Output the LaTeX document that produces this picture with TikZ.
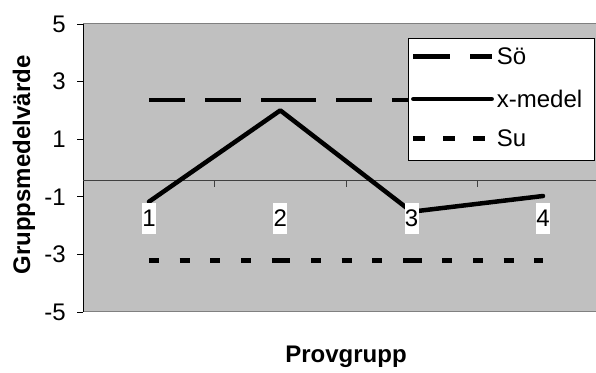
\documentclass[tikz,border=0pt]{standalone}
\usepackage{fontspec}
\setmainfont{Liberation Sans}
\definecolor{plotgray}{HTML}{C0C0C0}
\definecolor{bordergray}{HTML}{808080}
\tikzset{
  txt/.style={font=\fontsize{24}{24}\selectfont, inner sep=0pt},
  ttl/.style={font=\fontsize{24}{24}\selectfont\bfseries, inner sep=0pt},
  ticklbl/.style={txt, anchor=east},
  datalbl/.style={txt, fill=white, minimum width=14pt, minimum height=31pt},
  legtxt/.style={txt, anchor=west},
  soline/.style={line width=4.5pt, line cap=butt, dash pattern=on 36pt off 20pt},
  suline/.style={line width=4.5pt, line cap=butt, dash pattern=on 10pt off 20.7pt},
  medline/.style={line width=4.5pt, line cap=round, line join=round},
}
\begin{document}
\begin{tikzpicture}[x=1pt,y=-1pt]
\useasboundingbox (0,0) rectangle (596,372);
% plot area
\fill[plotgray] (83.3,23.5) rectangle (596,311.7);
\draw[bordergray, line width=1.5pt] (83.3,23.5) -- (596,23.5);
\draw[bordergray, line width=1.5pt] (83.3,311.7) -- (596,311.7);
% y axis
\draw[black, line width=1pt] (83.3,23.5) -- (83.3,311.7);
\foreach \v [count=\i from 0] in {5,3,1,-1,-3,-5} {
  \draw[black, line width=1pt] (77,24+\i*57.6) -- (83.3,24+\i*57.6);
  \node[ticklbl] (tick\i) at (66,24+\i*57.6) {\v};
}
% x axis
\draw[black!75, line width=1pt] (83.3,180.3) -- (596,180.3);
\foreach \x in {214.7,346,477.3} {
  \draw[black!75, line width=1pt] (\x,180.3) -- (\x,186.5);
}
% data coordinates
\coordinate (s1) at (149,100);
\coordinate (s2) at (280.3,100);
\coordinate (s3) at (411.6,100);
\coordinate (s4) at (543,100);
\coordinate (u1) at (149,260.7);
\coordinate (u2) at (280.3,260.7);
\coordinate (u3) at (411.6,260.7);
\coordinate (u4) at (543,260.7);
\coordinate (m1) at (149,201.7);
\coordinate (m2) at (280.3,110.4);
\coordinate (m3) at (411.6,211.7);
\coordinate (m4) at (543,196);
% series
\draw[soline] (s1) -- (s2);
\draw[soline] (s2) -- (s3);
\draw[soline] (s3) -- (s4);
\draw[suline] (u1) -- (u2);
\draw[suline] (u2) -- (u3);
\draw[suline] (u3) -- (u4);
\draw[medline] (m1) -- (m2) -- (m3) -- (m4);
% data labels
\node[datalbl] (d1) at (149,218.3) {1};
\node[datalbl] (d2) at (280.3,218.3) {2};
\node[datalbl] (d3) at (411.6,218.3) {3};
\node[datalbl] (d4) at (543,218.3) {4};
% legend
\node[draw=black, line width=0.8pt, fill=white, minimum width=186.8pt, minimum height=121.7pt, inner sep=0pt, anchor=north west] (legend) at (407.5,38.3) {};
\coordinate (ls0) at (413.3,56.7);
\coordinate (ls1) at (491.7,56.7);
\coordinate (lm0) at (413.3,99);
\coordinate (lm1) at (491.7,99);
\coordinate (lu0) at (413.3,138.3);
\coordinate (lu1) at (491.7,138.3);
\draw[line width=4.5pt, line cap=butt, dash pattern=on 37pt off 20pt] (ls0) -- (ls1);
\draw[line width=4.5pt, line cap=round] (lm0) -- (lm1);
\draw[line width=4.5pt, line cap=butt, dash pattern=on 11.7pt off 18.3pt] (lu0) -- (lu1);
\node[legtxt] (lso) at (496.7,56.7) {Sö};
\node[legtxt] (lme) at (496.7,99) {x-medel};
\node[legtxt] (lsu) at (496.7,138.3) {Su};
% axis titles
\node[ttl] (xtitle) at (346,357) {Provgrupp};
\node[ttl, rotate=90] (ytitle) at (24,165) {Gruppsmedelvärde};
\end{tikzpicture}
\end{document}
